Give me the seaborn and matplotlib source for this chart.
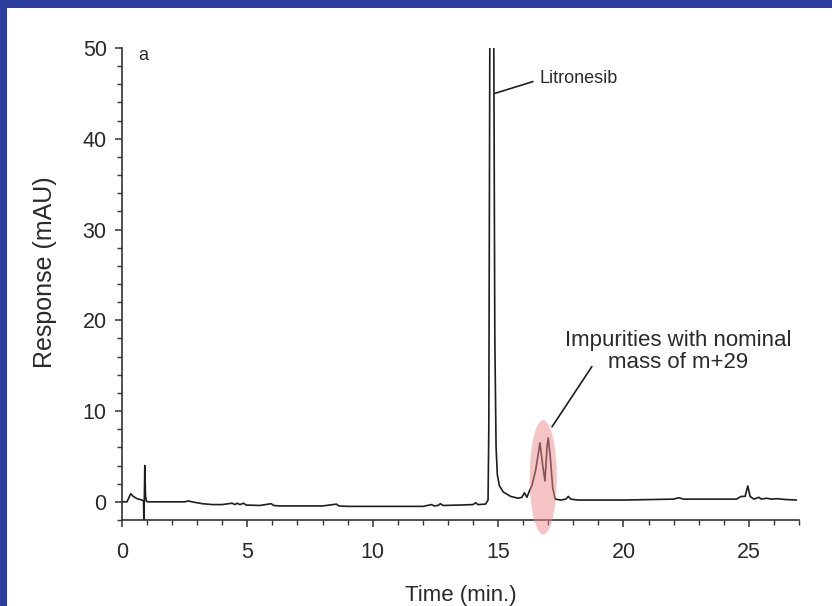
import pandas as pd
import numpy as np
import seaborn as sns
import matplotlib.pyplot as plt
from matplotlib.patches import Ellipse, Rectangle

# chromatogram trace (time in min, response in mAU)
time_min = [0.0, 0.2, 0.3, 0.35, 0.45, 0.6, 0.8, 0.86, 0.875, 0.89, 0.91, 0.94, 0.98,
            1.05, 1.5, 2.0, 2.5, 2.65, 2.8, 3.2, 3.6, 4.0, 4.4, 4.5, 4.6, 4.7, 4.85, 4.95,
            5.5, 5.95, 6.05, 6.3, 7.0, 8.0, 8.55, 8.65, 9.0, 10.0, 11.0, 12.0, 12.35, 12.45,
            12.6, 12.7, 12.8, 13.5, 14.0, 14.1, 14.2, 14.5, 14.6, 14.63, 14.67, 14.72, 14.78,
            14.83, 14.87, 14.92, 14.97, 15.05, 15.2, 15.5, 15.8, 15.95, 16.05, 16.15, 16.25,
            16.35, 16.5, 16.67, 16.78, 16.87, 16.95, 17.0, 17.08, 17.18, 17.28, 17.5, 17.7,
            17.8, 17.9, 18.2, 19.0, 20.0, 21.0, 22.0, 22.2, 22.4, 23.0, 24.0, 24.5, 24.7,
            24.85, 24.96, 25.05, 25.2, 25.4, 25.5, 25.7, 25.9, 26.1, 26.5, 26.9]
response = [0.0, 0.0, 0.6, 0.9, 0.6, 0.35, 0.2, 0.1, -2.2, 0.0, 4.0, 0.6, 0.05,
            0.0, 0.0, 0.0, 0.0, 0.1, 0.0, -0.2, -0.3, -0.3, -0.15, -0.3, -0.15, -0.3, -0.15, -0.35,
            -0.4, -0.2, -0.4, -0.45, -0.45, -0.45, -0.25, -0.45, -0.5, -0.5, -0.5, -0.5, -0.3, -0.45,
            -0.4, -0.2, -0.4, -0.35, -0.3, -0.1, -0.3, -0.25, 0.2, 8.0, 50.0, 95.0, 95.0,
            50.0, 18.0, 6.0, 3.0, 1.8, 1.1, 0.6, 0.4, 0.5, 1.0, 0.5, 1.2,
            1.8, 3.5, 6.5, 4.0, 2.3, 6.0, 7.05, 5.0, 1.5, 0.3, 0.2, 0.3,
            0.6, 0.3, 0.2, 0.2, 0.2, 0.25, 0.3, 0.45, 0.3, 0.3, 0.3, 0.3, 0.6,
            0.6, 1.75, 0.6, 0.3, 0.5, 0.3, 0.4, 0.3, 0.35, 0.25, 0.2]

x_ticks = [0, 5, 10, 15, 20, 25]
y_ticks = [0, 10, 20, 30, 40, 50]

df = pd.DataFrame({'time': time_min, 'response': response})

sns.set_style('ticks')
plt.rcParams['font.family'] = ['Liberation Sans', 'DejaVu Sans']

fig = plt.figure(figsize=(8.32, 6.06), dpi=100)
ax = fig.add_axes([0.1466, 0.1419, 0.8137, 0.7789])

sns.lineplot(data=df, x='time', y='response', sort=False, color='#1e1e1e',
             linewidth=1.2, ax=ax)

ax.set_xlim(0, 27)
ax.set_ylim(-2, 50)
ax.set_xticks(x_ticks)
ax.set_yticks(y_ticks)
ax.set_xticks(np.arange(0, 28, 1), minor=True)
ax.set_yticks(np.arange(-2, 51, 2), minor=True)
ax.tick_params(axis='both', which='major', labelsize=15.5, length=5, width=1.1,
               color='#333333', labelcolor='#2a2a2a')
ax.tick_params(axis='x', which='major', pad=11)
ax.tick_params(axis='y', which='major', pad=6)
ax.tick_params(axis='both', which='minor', length=3.5, width=1.0, color='#333333')
ax.set_xlabel('Time (min.)', fontsize=16, color='#2a2a2a', labelpad=16)
ax.set_ylabel('Response (mAU)', fontsize=18, color='#2a2a2a')
ax.yaxis.set_label_coords(-0.096, 0.525)
for side in ['top', 'right']:
    ax.spines[side].set_visible(False)
for side in ['left', 'bottom']:
    ax.spines[side].set_linewidth(1.2)
    ax.spines[side].set_color('#333333')

# panel letter and peak labels
ax.text(0.65, 49.2, 'a', fontsize=13, color='#2a2a2a', va='center')
ax.plot([14.87, 16.39], [45.0, 46.3], color='#1e1e1e', linewidth=1.2)
ax.text(16.67, 46.6, 'Litronesib', fontsize=13, color='#2a2a2a', va='center')
ax.plot([17.15, 18.74], [8.26, 14.9], color='#1e1e1e', linewidth=1.2)
ax.text(22.17, 16.6, 'Impurities with nominal\nmass of m+29', fontsize=16,
        color='#2a2a2a', ha='center', va='center', linespacing=1.05)

ell = Ellipse((16.8, 2.7), 1.08, 12.6, facecolor='#f08a8e', alpha=0.5,
              edgecolor='none', clip_on=False, zorder=5)
ax.add_patch(ell)

# blue frame on the top and left edges
fig.patches.append(Rectangle((0, 1 - 8 / 606), 1, 8 / 606, transform=fig.transFigure,
                             facecolor='#2d3e9e', edgecolor='none'))
fig.patches.append(Rectangle((0, 0), 7 / 832, 1, transform=fig.transFigure,
                             facecolor='#2d3e9e', edgecolor='none'))

fig.savefig('out.png', dpi=100)
